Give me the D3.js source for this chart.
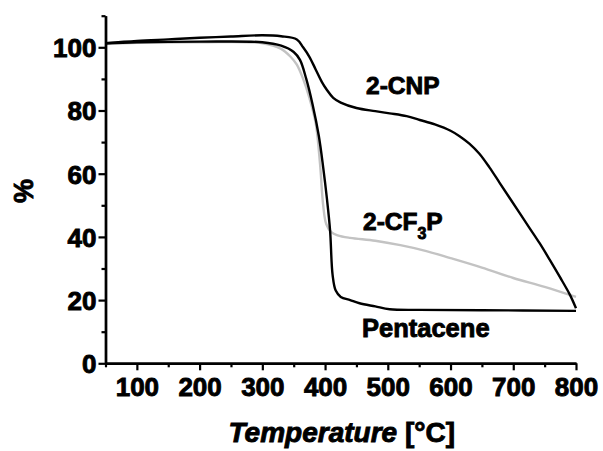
<!DOCTYPE html>
<html><head><meta charset="utf-8">
<script src="https://cdn.jsdelivr.net/npm/d3@7"></script>
<style>
html,body{margin:0;padding:0;background:#fff;}
text{font-family:"Liberation Sans",Arial,sans-serif;font-weight:bold;fill:#000;stroke:#000;stroke-width:0.9px;}
</style></head>
<body><svg id="c" width="603" height="451"></svg>
<script>
// Temperature (°C) and weight (%)
const cnpT   = [50,100,150,200,250,300,330,355,365,375,385,395,403,413,425,450,480,503,530,551,575,600,615,630,646,662,678,694,710,726,742,758,774,790,800];
const cnpW   = [101.3,102,102.5,103,103.4,103.8,103.5,102.5,100,97,93,89,86.5,84,82.5,80.8,79.8,79.1,78.2,77,75.6,73.6,71.8,69.5,66.3,62,57.2,52.4,47.6,42.8,38,32.8,27.4,21.8,17.4];
const cf3pT  = [50,100,200,300,330,345,355,365,375,385,392,397,402,410,420,440,480,520,560,600,650,700,750,800];
const cf3pW  = [101,101.4,101.6,101.3,99.5,97,94.5,90,84,76,63,50,44,41.5,40.5,39.7,38.8,37.4,35.6,33.3,30.3,27,24.2,21];
const pentT  = [50,100,200,300,330,350,360,370,380,390,397,403,408,412,417,425,440,455,480,503,550,650,800];
const pentW  = [101.3,101.6,101.8,101.6,100.5,98.5,96,90,82,72,62,52,42,28,23,21,20,19,18,17.1,16.9,16.8,16.6];
const xTicks = [100,200,300,400,500,600,700,800];
const yTicks = [0,20,40,60,80,100];
const xMinor = [50,150,250,350,450,550,650,750];
const yMinor = [10,30,50,70,90,110];

const svg = d3.select("#c");
const x = d3.scaleLinear().domain([50,800]).range([105.5,576]);
const y = d3.scaleLinear().domain([0,110]).range([363.3,15.7]);

const line = d3.line().x(d=>x(d[0])).y(d=>y(d[1])).curve(d3.curveCatmullRom.alpha(0.5));
const zip = (a,b)=>a.map((v,i)=>[v,b[i]]);

svg.append("path").datum(zip(cf3pT,cf3pW)).attr("d",line)
  .attr("fill","none").attr("stroke","#c3c3c3").attr("stroke-width",2.4);
svg.append("path").datum(zip(pentT,pentW)).attr("d",line)
  .attr("fill","none").attr("stroke","#000").attr("stroke-width",2.4);
svg.append("path").datum(zip(cnpT,cnpW)).attr("d",line)
  .attr("fill","none").attr("stroke","#000").attr("stroke-width",2.4);

// axes
const gx = svg.append("g").attr("transform",`translate(0,${y(0)})`)
  .call(d3.axisBottom(x).tickValues(xTicks).tickSize(7).tickSizeOuter(0).tickPadding(7));
const gxm = svg.append("g").attr("transform",`translate(0,${y(0)})`)
  .call(d3.axisBottom(x).tickValues(xMinor).tickSize(4).tickSizeOuter(0).tickFormat(""));
const gy = svg.append("g").attr("transform",`translate(${x(50)},0)`)
  .call(d3.axisLeft(y).tickValues(yTicks).tickSize(7).tickSizeOuter(0).tickPadding(2));
const gym = svg.append("g").attr("transform",`translate(${x(50)},0)`)
  .call(d3.axisLeft(y).tickValues(yMinor).tickSize(4).tickSizeOuter(0).tickFormat(""));
[gx,gxm,gy,gym].forEach(g=>{
  g.selectAll(".domain").attr("stroke","#000").attr("stroke-width",2.4);
  g.selectAll(".tick line").attr("stroke","#000").attr("stroke-width",2.2);
});
[gx,gy].forEach(g=>g.selectAll(".tick text").attr("font-size",26)
  .attr("font-family","Liberation Sans, Arial").attr("font-weight","bold").attr("fill","#000"));
gy.selectAll(".tick text").attr("dy","0.36em");

// axis titles
const xt = svg.append("text").attr("x",x(425)+1).attr("y",442).attr("text-anchor","middle").attr("font-size",28);
xt.append("tspan").attr("font-style","italic").text("Temperature");
xt.append("tspan").text(" [°C]");
svg.append("text").attr("transform","translate(33,191) rotate(-90)").attr("text-anchor","middle").attr("font-size",27).text("%");

// series labels
svg.append("text").attr("x",366).attr("y",94).attr("font-size",24.5).text("2-CNP");
const cl = svg.append("text").attr("x",363).attr("y",230).attr("font-size",24.5);
cl.append("tspan").text("2-CF");
cl.append("tspan").attr("font-size",16).attr("dy",9).text("3");
cl.append("tspan").attr("dy",-9).text("P");
svg.append("text").attr("x",362).attr("y",336.7).attr("font-size",25.5).text("Pentacene");
</script></body></html>
